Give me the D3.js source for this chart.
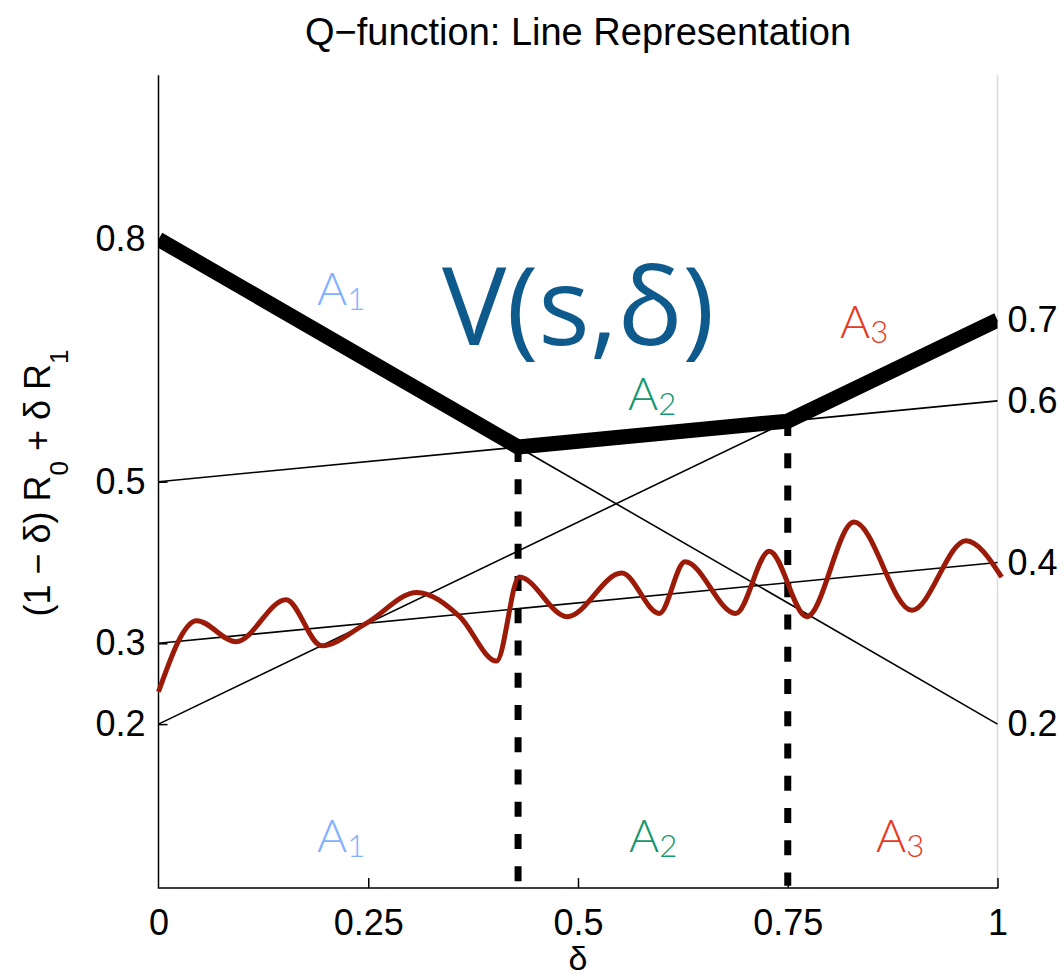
<!DOCTYPE html>
<html>
<head>
<meta charset="utf-8">
<script src="https://cdn.jsdelivr.net/npm/d3@7"></script>
<style>
  body { margin: 0; background: #fff; }
  text { font-family: "Liberation Sans", Arial, sans-serif; }
</style>
</head>
<body>
<div id="chart"></div>
<script>
"use strict";
// straight Q-lines: value at delta = 0 and delta = 1
const lineStart = [0.8, 0.5, 0.2, 0.3];
const lineEnd = [0.2, 0.6, 0.7, 0.4];

// wiggly red curve
const noisyX = [0, 0.0455, 0.0924, 0.152, 0.1945, 0.248, 0.308, 0.359, 0.403, 0.430,
    0.487, 0.552, 0.597, 0.6275, 0.688, 0.728, 0.7726, 0.829, 0.898, 0.9625, 1.005];
const noisyY = [0.240, 0.328, 0.302, 0.354, 0.297, 0.325, 0.363, 0.333, 0.278, 0.382,
    0.333, 0.387, 0.337, 0.401, 0.337, 0.414, 0.333, 0.450, 0.341, 0.427, 0.382];

const leftTicks = [0.2, 0.3, 0.5, 0.8];
const rightTicks = [0.7, 0.6, 0.4, 0.2];
const xTicks = [0, 0.25, 0.5, 0.75, 1];
const xTickLabels = ["0", "0.25", "0.5", "0.75", "1"];

const regionNames = ["A1", "A2", "A3"];
const regionColors = ["#80b0ff", "#139870", "#e8391d"];

const width = 1064, height = 980;

const x = d3.scaleLinear().domain([0, 1]).range([158.5, 997.5]);
const y = d3.scaleLinear().domain([0, 1]).range([885.7, 77.7]);

const svg = d3.select("#chart")
    .append("svg")
    .attr("width", width)
    .attr("height", height);

svg.append("clipPath").attr("id", "plot")
    .append("rect")
    .attr("x", x(0)).attr("y", 0)
    .attr("width", x(1) - x(0)).attr("height", height);

// envelope corners = intersections of consecutive lines
const valueAt = (i, d) => lineStart[i] + (lineEnd[i] - lineStart[i]) * d;
const cross = (a, b) => (lineStart[b] - lineStart[a]) /
    ((lineEnd[a] - lineStart[a]) - (lineEnd[b] - lineStart[b]));
const breaks = [cross(0, 1), cross(1, 2)];
const envelopeX = [0, ...breaks, 1];
const envelopeY = [valueAt(0, 0), valueAt(1, breaks[0]), valueAt(2, breaks[1]), valueAt(2, 1)];

const line = d3.line().x((d) => x(d[0])).y((d) => y(d[1]));

// axes frame
svg.append("line")
    .attr("x1", x(1)).attr("x2", x(1))
    .attr("y1", y(1.003)).attr("y2", y(-0.003))
    .attr("stroke", "#dcdcdc").attr("stroke-width", 1.5);

const gLeft = svg.append("g").attr("transform", `translate(${x(0)},0)`)
    .call(d3.axisLeft(y).tickValues(leftTicks).tickSize(-9).tickPadding(13)
        .tickFormat(d3.format(".1f")));
const gBottom = svg.append("g").attr("transform", `translate(0,${y(-0.003)})`)
    .call(d3.axisBottom(x).tickValues(xTicks).tickSize(-10).tickPadding(21)
        .tickFormat((d, i) => xTickLabels[i]));
for (const g of [gLeft, gBottom]) {
    g.select(".domain").remove();
    g.selectAll(".tick line").attr("stroke", "#000").attr("stroke-width", 1.5);
    g.selectAll(".tick text").attr("fill", "#000")
        .style("font-size", "36px").style("font-family", "'Liberation Sans', Arial, sans-serif");
}
gBottom.selectAll(".tick").filter((d) => d === 0).select("line").remove();

svg.append("line")
    .attr("x1", x(0)).attr("x2", x(0))
    .attr("y1", y(1.003)).attr("y2", y(-0.003))
    .attr("stroke", "#000").attr("stroke-width", 1.5);
svg.append("line")
    .attr("x1", x(0) - 0.75).attr("x2", x(1) + 0.75)
    .attr("y1", y(-0.003)).attr("y2", y(-0.003))
    .attr("stroke", "#000").attr("stroke-width", 1.5);

// right side end values
svg.append("g")
    .selectAll("text")
    .data(rightTicks)
    .join("text")
    .attr("x", x(1) + 10)
    .attr("y", (d) => y(d))
    .attr("dy", "0.34em")
    .style("font-size", "36px")
    .text((d) => d3.format(".1f")(d));

// thin straight lines
svg.append("g")
    .selectAll("path")
    .data(lineStart.map((s, i) => [[0, s], [1, lineEnd[i]]]))
    .join("path")
    .attr("fill", "none")
    .attr("stroke", "#000")
    .attr("stroke-width", 1.6)
    .attr("d", line);

// dashed drops at the breakpoints
svg.append("g")
    .selectAll("line")
    .data(breaks)
    .join("line")
    .attr("x1", (d) => x(d)).attr("x2", (d) => x(d))
    .attr("y1", (d, i) => y(envelopeY[i + 1]))
    .attr("y2", y(0))
    .attr("stroke", "#000")
    .attr("stroke-width", 7)
    .attr("stroke-dasharray", "15,17.25");

// V(s, delta): upper envelope
svg.append("path")
    .datum(envelopeX.map((d, i) => [d, envelopeY[i]]))
    .attr("clip-path", "url(#plot)")
    .attr("fill", "none")
    .attr("stroke", "#000")
    .attr("stroke-width", 15)
    .attr("stroke-linejoin", "miter")
    .attr("d", line);

// noisy red curve
svg.append("path")
    .datum(noisyX.map((d, i) => [d, noisyY[i]]))
    .attr("fill", "none")
    .attr("stroke", "#9b1a08")
    .attr("stroke-width", 5)
    .attr("stroke-linejoin", "round")
    .attr("d", line.curve(d3.curveMonotoneX));

// region labels
function regionLabel(i, px, py) {
    const t = svg.append("text")
        .attr("x", px).attr("y", py)
        .attr("fill", regionColors[i])
        .style("font-family", "Lato, 'Open Sans', sans-serif")
        .style("font-weight", 300);
    t.append("tspan").style("font-size", "46px").text(regionNames[i][0]);
    t.append("tspan").style("font-size", "31px").attr("dy", 5).text(regionNames[i][1]);
}
regionLabel(0, 317, 305);
regionLabel(1, 628, 410);
regionLabel(2, 840, 338);
regionLabel(0, 317, 852);
regionLabel(1, 629, 852);
regionLabel(2, 876, 852);

svg.append("text")
    .attr("x", 442).attr("y", 345)
    .attr("fill", "#0f5a8d")
    .style("font-family", "'Open Sans', sans-serif")
    .style("font-size", "108px")
    .text("V(s,δ)");

// title and axis labels
svg.append("text")
    .attr("x", 578).attr("y", 45)
    .attr("text-anchor", "middle")
    .style("font-size", "38px")
    .text("Q\u2212function: Line Representation");

svg.append("text")
    .attr("x", 578).attr("y", 970)
    .attr("text-anchor", "middle")
    .style("font-size", "34px")
    .text("δ");

const yl = svg.append("text")
    .attr("transform", "translate(50,483) rotate(-90)")
    .attr("text-anchor", "middle")
    .style("font-size", "36px");
yl.append("tspan").text("(1 \u2212 δ) R");
yl.append("tspan").attr("dy", 18).style("font-size", "26px").text("0");
yl.append("tspan").attr("dy", -18).text(" + δ R");
yl.append("tspan").attr("dy", 18).style("font-size", "26px").text("1");
</script>
</body>
</html>
